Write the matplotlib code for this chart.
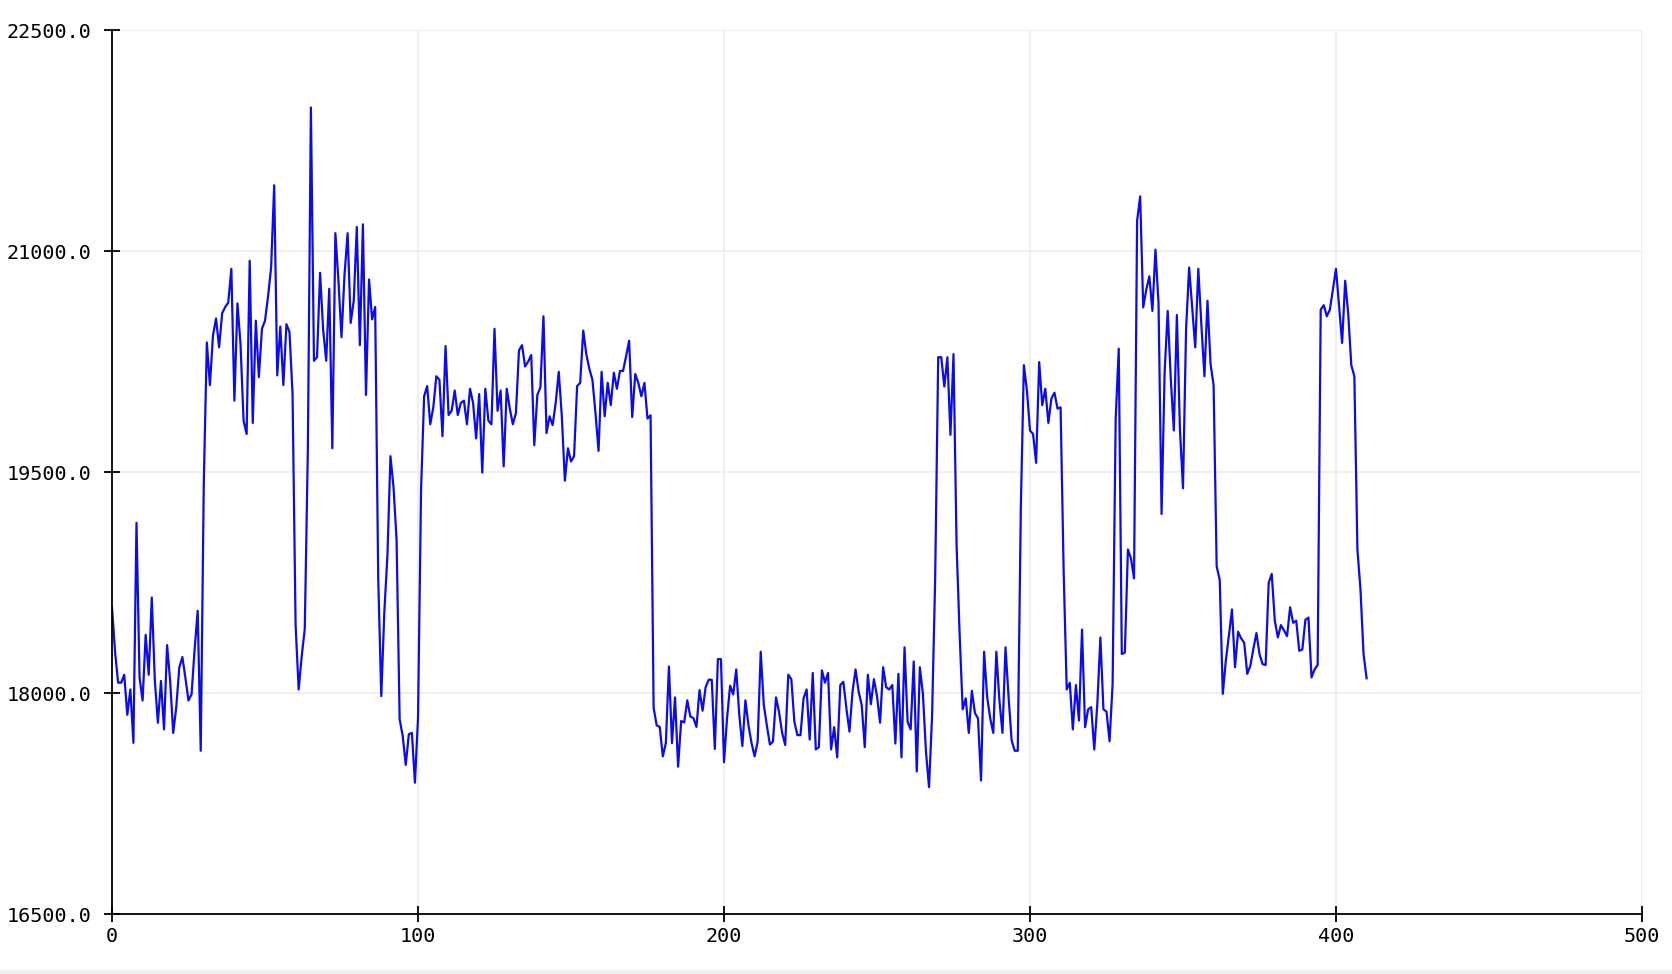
import matplotlib
matplotlib.use("Agg")
import matplotlib.pyplot as plt
from matplotlib.patches import Rectangle
from matplotlib.ticker import FormatStrFormatter

# values, one per sample (index 0..410)
values = [
    18582, 18280, 18070, 18070, 18124, 17852, 18024, 17662, 19155, 18106,
    17949, 18395, 18124, 18648, 18085, 17798, 18082, 17753, 18325, 18082,
    17729, 17904, 18175, 18244, 18100, 17949, 17991, 18296, 18558, 17608,
    19432, 20379, 20089, 20427, 20542, 20346, 20578, 20620, 20650, 20879,
    19984, 20644, 20367, 19848, 19758, 20934, 19833, 20527, 20144, 20472,
    20527, 20692, 20888, 21446, 20156, 20487, 20090, 20503, 20451, 20029,
    18461, 18024, 18250, 18437, 19652, 21974, 20255, 20279, 20852, 20466,
    20255, 20744, 19661, 21121, 20798, 20415, 20843, 21121, 20512, 20662,
    21163, 20361, 21181, 20023, 20807, 20536, 20620, 18778, 17979, 18552,
    18929, 19607, 19396, 19040, 17822, 17708, 17512, 17720, 17729, 17391,
    17828, 19381, 20014, 20083, 19824, 19939, 20150, 20126, 19743, 20355,
    19887, 19915, 20053, 19887, 19969, 19984, 19824, 20065, 19969, 19728,
    20029, 19496, 20065, 19848, 19824, 20472, 19915, 20053, 19538, 20065,
    19930, 19824, 19900, 20325, 20361, 20216, 20249, 20294, 19682, 20023,
    20074, 20557, 19764, 19878, 19818, 19969, 20180, 19878, 19441, 19661,
    19571, 19607, 20083, 20105, 20460, 20300, 20200, 20126, 19900, 19643,
    20180, 19878, 20105, 19954, 20174, 20065, 20186, 20186, 20285, 20391,
    19873, 20165, 20105, 20014, 20105, 19863, 19885, 17900, 17780, 17770,
    17570, 17660, 18180, 17660, 17970, 17500, 17810, 17800, 17950, 17840,
    17830, 17770, 18020, 17880, 18040, 18090, 18090, 17620, 18230, 18230,
    17530, 17830, 18050, 17990, 18160, 17850, 17640, 17950, 17780, 17660,
    17570, 17670, 18280, 17920, 17780, 17650, 17670, 17970, 17870, 17729,
    17647, 18124, 18094, 17804, 17714, 17714, 17964, 18024, 17684, 18136,
    17617, 17632, 18154, 18070, 18136, 17617, 17768, 17563, 18054, 18076,
    17895, 17738, 18009, 18160, 18009, 17919, 17632, 18124, 17924, 18094,
    17979, 17798, 18175, 18039, 18024, 18054, 17657, 18130, 17563, 18310,
    17804, 17753, 18214, 17467, 18175, 17994, 17602, 17361, 17843, 18769,
    20279, 20279, 20080, 20279, 19752, 20300, 19010, 18401, 17889, 17964,
    17729, 18015, 17864, 17828, 17406, 18280, 17973, 17828, 17729, 18280,
    17949, 17729, 18310, 17973, 17678, 17608, 17608, 19254, 20225, 20053,
    19782, 19758, 19562, 20246, 19954, 20065, 19833, 19999, 20038, 19930,
    19939, 18823, 18024, 18070, 17753, 18054, 17813, 18431, 17768, 17889,
    17904, 17617, 17924, 18377, 17889, 17874, 17672, 18064, 19863, 20337,
    18265, 18274, 18974, 18914, 18778, 21205, 21371, 20617, 20738, 20828,
    20593, 21009, 20647, 19215, 20180, 20593, 20135, 19782, 20566, 19788,
    19390, 20466, 20888, 20620, 20346, 20879, 20500, 20150, 20662, 20234,
    20090, 18859, 18769, 17994, 18220, 18390, 18567, 18175, 18416, 18371,
    18341, 18130, 18184, 18300, 18407, 18265, 18196, 18190, 18748, 18808,
    18491, 18377, 18461, 18425, 18386, 18582, 18476, 18491, 18286, 18295,
    18497, 18512, 18106, 18160, 18190, 20602, 20632, 20557, 20602, 20740,
    20879, 20630, 20376, 20798, 20572, 20225, 20150, 18974, 18703, 18265,
    18100,
]
x_ticks = [0, 100, 200, 300, 400, 500]
y_ticks = [16500, 18000, 19500, 21000, 22500]

plt.rcParams['font.family'] = ['DejaVu Sans Mono']

fig = plt.figure(figsize=(16.72, 9.74), dpi=100)
ax = fig.add_axes([112 / 1672, 1 - 914 / 974, 1530 / 1672, 884 / 974])

ax.plot(range(len(values)), values, color='#0c0ce8', lw=1.6)

ax.set_xlim(0, 500)
ax.set_ylim(16500, 22500)
ax.set_xticks(x_ticks)
ax.set_yticks(y_ticks)
ax.yaxis.set_major_formatter(FormatStrFormatter('%.1f'))
ax.grid(True, color='#ececec', lw=1.2)
ax.set_axisbelow(True)

for s in ['top', 'right']:
    ax.spines[s].set_visible(False)
for s in ['left', 'bottom']:
    ax.spines[s].set_linewidth(1.3)
    ax.spines[s].set_color('black')

ax.tick_params(direction='inout', length=11, width=1.3, labelsize=14.5, colors='black')
ax.tick_params(axis='y', pad=9)
ax.tick_params(axis='x', pad=4)

# thin grey strip at the bottom edge
fig.patches.append(Rectangle((0, 0), 1, 4 / 974, transform=fig.transFigure,
                             color='#eeeeee', zorder=-1))

fig.savefig('out.png', dpi=100)
